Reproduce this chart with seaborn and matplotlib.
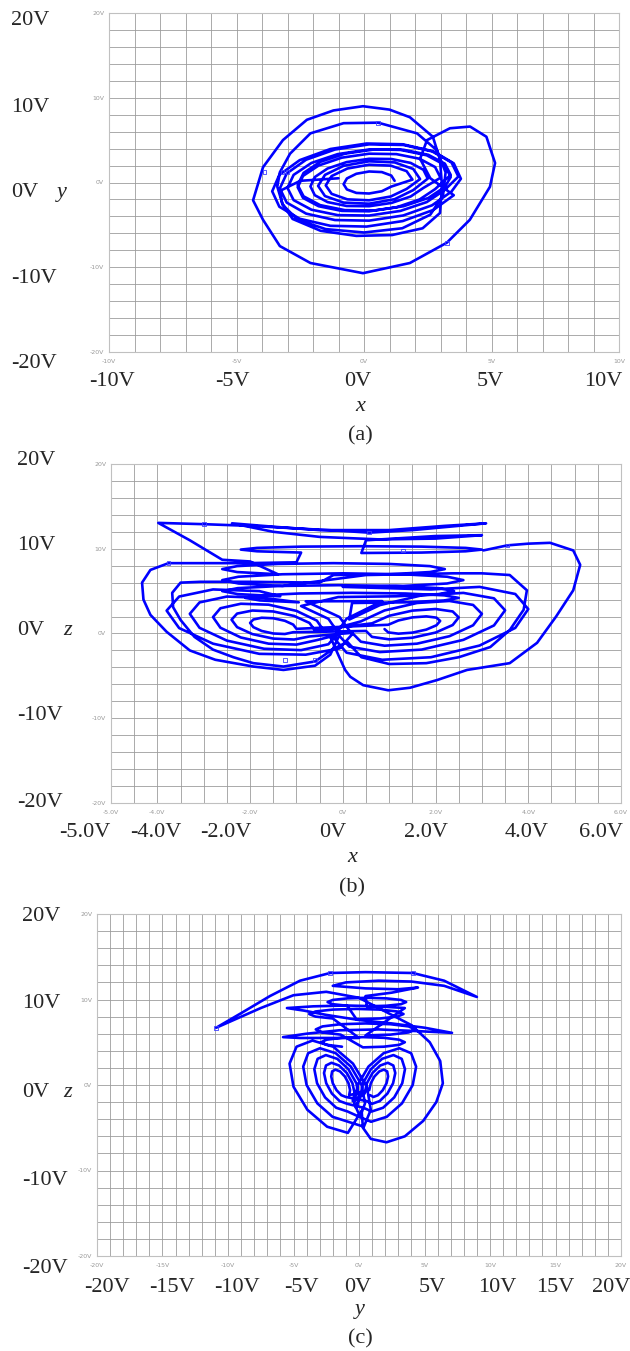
import numpy as np
import pandas as pd
import matplotlib
matplotlib.use("Agg")
import matplotlib.pyplot as plt
from matplotlib.ticker import MultipleLocator
import seaborn as sns

# values, in volts; each panel is one trajectory cut into pieces

# ---- (a) x vs y ----
a1_x = [1.2, 1.07, 0.7, 0.2, -0.3, -0.67, -0.8, -0.67, -0.3, 0.2, 0.7, 1.07]
a1_y = [0.2, 0.82, 1.23, 1.3, 1.03, 0.48, -0.2, -0.82, -1.23, -1.3, -1.03, -0.48]
a2_x = [1.9, 1.67, 1.05, 0.2, -0.65, -1.27, -1.5, -1.27, -0.65, 0.2, 1.05, 1.67]
a2_y = [0.34, 1.34, 1.99, 2.1, 1.65, 0.76, -0.34, -1.34, -1.99, -2.1, -1.65, -0.76]
a3_x = [2.2, 1.93, 1.2, 0.2, -0.8, -1.53, -1.8, -1.53, -0.8, 0.2, 1.2, 1.93]
a3_y = [0.4, 1.6, 2.37, 2.5, 1.97, 0.9, -0.4, -1.6, -2.37, -2.5, -1.97, -0.9]
a4_x = [2.5, 2.33, 1.83, 1.08, 0.2, -0.68, -1.43, -1.93, -2.1, -1.93, -1.43, -0.68, 0.2, 1.08, 1.83, 2.33]
a4_y = [0.46, 1.5, 2.31, 2.77, 2.8, 2.41, 1.65, 0.64, -0.46, -1.5, -2.31, -2.77, -2.8, -2.41, -1.65, -0.64]
a5_x = [3.0, 2.79, 2.18, 1.27, 0.2, -0.87, -1.78, -2.39, -2.6, -2.39, -1.78, -0.87, 0.2, 1.27, 2.18, 2.79]
a5_y = [0.56, 1.82, 2.8, 3.35, 3.4, 2.93, 2.0, 0.78, -0.56, -1.82, -2.8, -3.35, -3.4, -2.93, -2.0, -0.78]
a6_x = [3.4, 3.17, 2.52, 1.55, 0.4, -0.75, -1.72, -2.37, -2.6, -2.37, -1.72, -0.75, 0.4, 1.55, 2.52, 3.17]
a6_y = [0.9, 2.23, 3.27, 3.86, 3.9, 3.4, 2.43, 1.13, -0.3, -1.63, -2.67, -3.26, -3.3, -2.8, -1.83, -0.53]
a7_x = [3.4, 3.16, 2.46, 1.43, 0.2, -1.03, -2.06, -2.76, -3.0, -2.76, -2.06, -1.03, 0.2, 1.43, 2.46, 3.16]
a7_y = [0.64, 2.08, 3.21, 3.85, 3.9, 3.35, 2.31, 0.9, -0.64, -2.08, -3.21, -3.85, -3.9, -3.35, -2.31, -0.9]
a8_x = [3.7, 3.43, 2.67, 1.54, 0.2, -1.14, -2.27, -3.03, -3.3, -3.03, -2.27, -1.14, 0.2, 1.54, 2.67, 3.43]
a8_y = [0.7, 2.37, 3.67, 4.43, 4.5, 3.89, 2.69, 1.07, -0.7, -2.37, -3.67, -4.43, -4.5, -3.89, -2.69, -1.07]
a9_x = [3.8, 3.52, 2.72, 1.52, 0.1, -1.32, -2.52, -3.32, -3.6, -3.32, -2.52, -1.32, 0.1, 1.52, 2.72, 3.52]
a9_y = [0.44, 2.26, 3.68, 4.51, 4.6, 3.95, 2.64, 0.9, -1.04, -2.86, -4.28, -5.11, -5.2, -4.55, -3.24, -1.5]
a_big_x = [2.6, 2.2, 2.47, 3.37, 4.16, 4.8, 5.14, 4.94, 4.15, 3.25, 1.8, -0.04, -2.1, -3.3, -3.96, -4.35,
           -3.96, -3.18, -2.24, -1.2, -0.04, 1.0, 1.8, 2.7, 2.98, 3.06, 2.98, 2.3, 1.1, -0.3, -1.7, -2.8, -3.2]
a_big_y = [0.5, 2.8, 5.0, 6.4, 6.6, 5.4, 2.3, -0.5, -4.4, -7.1, -9.5, -10.7, -9.5, -7.5, -4.4, -2.1,
           1.8, 5.0, 7.4, 8.5, 9.0, 8.6, 7.7, 5.4, 2.7, -0.5, -3.6, -5.4, -6.2, -6.3, -5.7, -4.3, -2.5]
a_mid_x = [-3.4, -3.3, -2.9, -2.1, -0.8, 0.55, 2.08, 2.86, 3.2, 3.1, 2.6, 1.5, 0.0, -1.5, -2.6, -3.2, -3.3, -2.5, -1.0]
a_mid_y = [-0.5, 1.2, 3.4, 5.8, 7.0, 7.06, 5.8, 3.8, 1.2, -1.5, -3.8, -5.4, -5.9, -5.5, -4.4, -2.6, -1.0, 0.2, 0.5]
mark_xa = [-3.9, -3.2, -3.0, 0.55, 3.25]
mark_ya = [1.2, 1.2, 1.2, 7.06, -7.1]

# ---- (b) x vs z ----
b_r1_x = [0.9, 0.98, 1.2, 1.5, 1.8, 2.02, 2.1, 2.02, 1.8, 1.5, 1.2, 0.98]
b_r1_z = [0.52, 0.13, -0.02, 0.1, 0.46, 0.97, 1.48, 1.87, 2.02, 1.9, 1.54, 1.03]
b_l1_x = [-1.0, -1.07, -1.25, -1.5, -1.75, -1.93, -2.0, -1.93, -1.75, -1.5, -1.25, -1.07]
b_l1_z = [0.55, 1.05, 1.5, 1.8, 1.86, 1.65, 1.25, 0.75, 0.3, 0.0, -0.06, 0.15]
b_r2_x = [0.5, 0.63, 1.0, 1.5, 2.0, 2.37, 2.5, 2.37, 2.0, 1.5, 1.0, 0.63]
b_r2_z = [0.3, -0.4, -0.69, -0.5, 0.11, 1.0, 1.9, 2.6, 2.89, 2.7, 2.09, 1.2]
b_l2_x = [-0.6, -0.72, -1.05, -1.5, -1.95, -2.28, -2.4, -2.28, -1.95, -1.5, -1.05, -0.72]
b_l2_z = [0.37, 1.25, 2.07, 2.6, 2.71, 2.35, 1.63, 0.75, -0.07, -0.6, -0.71, -0.35]
b_r3_x = [0.2, 0.39, 0.9, 1.6, 2.3, 2.81, 3.0, 2.81, 2.3, 1.6, 0.9, 0.39]
b_r3_z = [0.08, -0.97, -1.44, -1.2, -0.32, 0.97, 2.32, 3.37, 3.84, 3.6, 2.72, 1.43]
b_l3_x = [-0.4, -0.56, -1.0, -1.6, -2.2, -2.64, -2.8, -2.64, -2.2, -1.6, -1.0, -0.56]
b_l3_z = [0.26, 1.52, 2.67, 3.4, 3.51, 2.98, 1.94, 0.68, -0.47, -1.2, -1.31, -0.78]
b_r4_x = [-0.1, 0.14, 0.8, 1.7, 2.6, 3.26, 3.5, 3.26, 2.6, 1.7, 0.8, 0.14]
b_r4_z = [-0.14, -1.55, -2.19, -1.9, -0.75, 0.95, 2.74, 4.15, 4.79, 4.5, 3.35, 1.65]
b_f4_x = [0.2, 1.35, 2.19, 2.5, 2.19, 1.35, 0.2, -0.95, -1.79, -2.1, -1.79, -0.95]
b_f4_z = [3.6, 3.68, 3.9, 4.2, 4.5, 4.72, 4.8, 4.72, 4.5, 4.2, 3.9, 3.68]
b_l4_x = [-1.7, -2.5, -3.09, -3.3, -3.09, -2.5, -1.7, -0.9, -0.31, -0.1, -0.31, -0.9]
b_l4_z = [4.2, 4.36, 3.67, 2.32, 0.67, -0.84, -1.8, -1.96, -1.27, 0.08, 1.73, 3.24]
b_f1_x = [-0.1, 1.15, 2.07, 2.4, 2.07, 1.15, -0.1, -1.35, -2.27, -2.6, -2.27, -1.35]
b_f1_z = [4.3, 4.39, 4.65, 5.0, 5.35, 5.61, 5.7, 5.61, 5.35, 5.0, 4.65, 4.39]
b_l5_x = [-1.8, -2.8, -3.53, -3.8, -3.53, -2.8, -1.8, -0.8, -0.07, 0.2, -0.07, -0.8]
b_l5_z = [5.0, 5.2, 4.36, 2.7, 0.64, -1.2, -2.4, -2.5, -1.76, -0.1, 1.94, 3.8]
b_r5_x = [0.85, 0.08, -0.2, 0.08, 0.85, 1.9, 2.95, 3.72, 4.0, 3.72, 2.95, 1.9]
b_r5_z = [3.82, 1.74, -0.48, -2.26, -3.1, -2.8, -1.42, 0.66, 2.88, 4.66, 5.5, 5.2]
b_f2_x = [0.0, 1.3, 2.25, 2.6, 2.25, 1.3, 0.0, -1.3, -2.25, -2.6, -2.25, -1.3]
b_f2_z = [5.5, 5.61, 5.9, 6.3, 6.7, 6.99, 7.1, 6.99, 6.7, 6.3, 5.9, 5.61]
b_r6_x = [0.5, 1.5, 2.38, 3.0, 3.6, 3.97, 3.9, 3.6, 3.18, 2.5, 1.8, 1.0, 0.4, 0.1]
b_r6_z = [6.9, 7.0, 7.1, 7.1, 6.9, 5.1, 2.8, 0.4, -1.6, -2.8, -3.5, -3.6, -2.8, -1.0]
b_l6_x = [-0.2, -0.6, -1.28, -1.93, -2.36, -2.8, -3.2, -3.5, -3.66, -3.68, -3.5, -3.07, -2.0, -0.5]
b_l6_z = [-1.8, -3.3, -3.9, -3.5, -2.8, -1.9, -0.4, 1.6, 3.1, 4.8, 6.0, 6.1, 6.1, 6.0]
b_f3_x = [-0.2, 1.0, 1.88, 2.2, 1.88, 1.0, -0.2, -1.4, -2.28, -2.6, -2.28, -1.4]
b_f3_z = [6.9, 6.99, 7.25, 7.6, 7.95, 8.21, 8.3, 8.21, 7.95, 7.6, 7.25, 6.99]
b_top_x = [-2.0, -2.6, -3.3, -3.98, -3.0, -2.0, -1.0, 0.0, 0.57, 1.5, 2.3, 3.09, 2.2, 1.0, -0.5, -1.5,
           -2.39, -1.5, -0.5, 0.8, 2.0, 3.0, 2.0, 0.5]
b_top_z = [8.5, 8.7, 11.0, 13.05, 12.9, 12.7, 12.4, 12.1, 11.9, 12.2, 12.6, 13.0, 12.7, 12.2, 12.2, 12.6,
           13.0, 12.0, 11.4, 11.1, 11.2, 11.6, 11.5, 11.0]
b_f5_x = [0.4, 1.7, 2.65, 3.0, 2.65, 1.7, 0.4, -0.9, -1.85, -2.2, -1.85, -0.9]
b_f5_z = [9.5, 9.55, 9.7, 9.9, 10.1, 10.25, 10.3, 10.25, 10.1, 9.9, 9.7, 9.55]
b_left_x = [-1.0, -2.1, -2.64, -3.76, -4.15, -4.33, -4.3, -4.15, -3.8, -3.3, -2.75, -1.93, -1.28, -0.6, -0.27, -0.1]
b_left_z = [8.4, 8.3, 8.3, 8.3, 7.5, 6.0, 4.0, 2.2, 0.2, -2.0, -3.1, -3.9, -4.3, -3.8, -2.5, -0.5]
b_right_x = [-0.27, -0.1, 0.05, 0.16, 0.44, 0.98, 1.45, 2.03, 2.68, 3.6, 4.19, 4.6, 4.97, 5.12, 4.97, 4.47,
             4.0, 3.55, 3.03]
b_right_z = [-0.4, -2.5, -4.3, -5.1, -6.1, -6.7, -6.4, -5.5, -4.3, -3.5, -1.1, 2.0, 5.1, 8.1, 9.8, 10.7,
             10.6, 10.4, 9.8]
mark_xb = [-3.0, -3.76, 0.57, 1.3, 3.55, -1.24, -0.6]
mark_zb = [12.9, 8.3, 11.9, 9.8, 10.4, -3.1, -3.1]

# ---- (c) y vs z ----
c_r1_y = [0.85, 1.1, 1.45, 1.82, 2.1, 2.22, 2.15, 1.9, 1.55, 1.18, 0.9, 0.78]
c_r1_z = [-1.19, -1.4, -1.19, -0.6, 0.2, 1.0, 1.59, 1.8, 1.59, 1.0, 0.2, -0.6]
c_l1_y = [-0.75, -0.68, -0.8, -1.08, -1.45, -1.8, -2.05, -2.12, -2.0, -1.72, -1.35, -1.0]
c_l1_z = [-1.19, -0.6, 0.2, 1.0, 1.59, 1.8, 1.59, 1.0, 0.2, -0.6, -1.19, -1.4]
c_r2_y = [0.58, 1.0, 1.58, 2.17, 2.6, 2.77, 2.62, 2.2, 1.62, 1.03, 0.6, 0.43]
c_r2_z = [-1.88, -2.2, -1.88, -1.0, 0.2, 1.4, 2.28, 2.6, 2.28, 1.4, 0.2, -1.0]
c_l2_y = [-0.48, -0.33, -0.5, -0.93, -1.52, -2.1, -2.52, -2.67, -2.5, -2.07, -1.48, -0.9]
c_l2_z = [-1.88, -1.0, 0.2, 1.4, 2.28, 2.6, 2.28, 1.4, 0.2, -1.0, -1.88, -2.2]
c_r3_y = [0.34, 0.97, 1.84, 2.69, 3.3, 3.51, 3.26, 2.63, 1.76, 0.91, 0.3, 0.09]
c_r3_z = [-2.66, -3.1, -2.66, -1.45, 0.2, 1.85, 3.06, 3.5, 3.06, 1.85, 0.2, -1.45]
c_l3_y = [-0.24, 0.01, -0.2, -0.81, -1.66, -2.53, -3.16, -3.41, -3.2, -2.59, -1.74, -0.87]
c_l3_z = [-2.66, -1.45, 0.2, 1.85, 3.06, 3.5, 3.06, 1.85, 0.2, -1.45, -2.66, -3.1]
c_r4_y = [0.02, 0.92, 2.12, 3.28, 4.1, 4.36, 3.98, 3.08, 1.88, 0.72, -0.1, -0.36]
c_r4_z = [-3.72, -4.3, -3.72, -2.15, 0.0, 2.15, 3.72, 4.3, 3.72, 2.15, 0.0, -2.15]
c_l4_y = [0.08, 0.46, 0.2, -0.62, -1.78, -2.98, -3.88, -4.26, -4.0, -3.18, -2.02, -0.82]
c_l4_z = [-3.72, -2.15, 0.0, 2.15, 3.72, 4.3, 3.72, 2.15, 0.0, -2.15, -3.72, -4.3]
c_l5_y = [0.37, 0.9, 0.6, -0.46, -1.97, -3.55, -4.77, -5.3, -5.0, -3.94, -2.43, -0.85]
c_l5_z = [-4.88, -2.9, -0.2, 2.5, 4.48, 5.2, 4.48, 2.5, -0.2, -2.9, -4.88, -5.6]
c_r5_y = [0.2, 0.3, 0.9, 2.1, 3.5, 4.9, 5.9, 6.4, 6.2, 5.4, 4.0, 2.0]
c_r5_z = [-3.0, -5.0, -6.3, -6.7, -6.0, -4.2, -2.0, 0.2, 2.8, 5.0, 7.0, 8.6]
c_t2_y = [0.0, -2.5, -5.0, -7.5, -10.9, -9.0, -6.8, -4.5, -2.2, 0.5, 4.1, 6.5, 9.0, 6.5, 4.0, 1.5, -1.0,
          -2.0, 0.5, 3.0, 4.5, 2.5, 0.5]
c_t2_z = [10.2, 10.9, 10.5, 9.0, 6.7, 8.4, 10.4, 12.2, 13.1, 13.2, 13.1, 12.2, 10.3, 11.6, 12.1, 12.2, 12.0,
          11.6, 11.3, 11.2, 11.4, 10.8, 10.4]
c_f4_y = [0.6, 2.1, 3.2, 3.6, 3.2, 2.1, 0.6, -0.9, -2.0, -2.4, -2.0, -0.9]
c_f4_z = [9.2, 9.27, 9.45, 9.7, 9.95, 10.13, 10.2, 10.13, 9.95, 9.7, 9.45, 9.27]
c_f3_y = [-0.2, 1.6, 2.92, 3.4, 2.92, 1.6, -0.2, -2.0, -3.32, -3.8, -3.32, -2.0]
c_f3_z = [7.7, 7.78, 8.0, 8.3, 8.6, 8.82, 8.9, 8.82, 8.6, 8.3, 8.0, 7.78]
c_t1_y = [0.0, -2.5, -4.5, -5.8, -4.0, -1.5, 1.5, 4.5, 7.1, 5.0, 2.5, 0.0, -2.5, -4.2, -5.5, -3.5, -1.0, 1.5,
          3.5, 2.0]
c_t1_z = [5.5, 5.5, 5.5, 5.6, 6.0, 6.4, 6.5, 6.3, 6.1, 6.7, 7.2, 7.6, 8.2, 8.7, 9.0, 9.2, 9.3, 9.2,
          9.0, 7.4]
c_f2_y = [0.5, 2.4, 3.79, 4.3, 3.79, 2.4, 0.5, -1.4, -2.79, -3.3, -2.79, -1.4]
c_f2_z = [5.8, 5.89, 6.15, 6.5, 6.85, 7.11, 7.2, 7.11, 6.85, 6.5, 6.15, 5.89]
c_f1_y = [0.3, 1.9, 3.07, 3.5, 3.07, 1.9, 0.3, -1.3, -2.47, -2.9, -2.47, -1.3]
c_f1_z = [4.4, 4.48, 4.7, 5.0, 5.3, 5.52, 5.6, 5.52, 5.3, 5.0, 4.7, 4.48]
mark_yc = [-2.2, 4.1, -10.9]
mark_zc = [13.1, 13.1, 6.7]

y_ticks = [-20, -10, 0, 10, 20]
y_ticklabels = ["-20V", "-10V", "0V", "10V", "20V"]
xa_ticks = [-10, -5, 0, 5, 10]
xa_ticklabels = ["-10V", "-5V", "0V", "5V", "10V"]
xb_ticks = [-5, -4, -2, 0, 2, 4, 6]
xb_ticklabels = ["-5.0V", "-4.0V", "-2.0V", "0V", "2.0V", "4.0V", "6.0V"]
yc_ticks = [-20, -15, -10, -5, 0, 5, 10, 15, 20]
yc_ticklabels = ["-20V", "-15V", "-10V", "-5V", "0V", "5V", "10V", "15V", "20V"]

xa = a1_x + a2_x + a3_x + a4_x + a5_x + a6_x + a7_x + a8_x + a9_x + a_big_x + a_mid_x
ya = a1_y + a2_y + a3_y + a4_y + a5_y + a6_y + a7_y + a8_y + a9_y + a_big_y + a_mid_y
xb = (b_r1_x + b_l1_x + b_r2_x + b_l2_x + b_r3_x + b_l3_x + b_r4_x + b_f4_x + b_l4_x + b_f1_x + b_l5_x
      + b_r5_x + b_f2_x + b_r6_x + b_l6_x + b_f3_x + b_top_x + b_f5_x + b_left_x + b_right_x)
zb = (b_r1_z + b_l1_z + b_r2_z + b_l2_z + b_r3_z + b_l3_z + b_r4_z + b_f4_z + b_l4_z + b_f1_z + b_l5_z
      + b_r5_z + b_f2_z + b_r6_z + b_l6_z + b_f3_z + b_top_z + b_f5_z + b_left_z + b_right_z)
yc = (c_r1_y + c_l1_y + c_r2_y + c_l2_y + c_r3_y + c_l3_y + c_r4_y + c_l4_y + c_l5_y + c_r5_y + c_t2_y
      + c_f4_y + c_f3_y + c_t1_y + c_f2_y + c_f1_y)
zc = (c_r1_z + c_l1_z + c_r2_z + c_l2_z + c_r3_z + c_l3_z + c_r4_z + c_l4_z + c_l5_z + c_r5_z + c_t2_z
      + c_f4_z + c_f3_z + c_t1_z + c_f2_z + c_f1_z)

W, H = 630, 1351
sns.set_style("white")
plt.rcParams["font.family"] = ["DejaVu Sans"]
fig = plt.figure(figsize=(W / 100, H / 100), dpi=100)


def px_axes(left, top, right, bottom):
    return fig.add_axes([left / W, 1 - bottom / H, (right - left) / W, (bottom - top) / H])


def draw_panel(ax, xs, ys, mx, my, xlim, xstep, xticks, xticklabels):
    sns.lineplot(x=xs, y=ys, sort=False, estimator=None, color="#0000ff", linewidth=1.9, ax=ax,
                 solid_joinstyle="round", solid_capstyle="round")
    ax.scatter(mx, my, marker="s", s=7, facecolors="none", edgecolors="#4040ff", linewidths=0.6, zorder=3)
    ax.set_xlim(xlim)
    ax.set_ylim(-20, 20)
    ax.set_xticks(xticks)
    ax.set_xticklabels(xticklabels)
    ax.set_yticks(y_ticks)
    ax.set_yticklabels(y_ticklabels)
    ax.xaxis.set_minor_locator(MultipleLocator(xstep))
    ax.yaxis.set_minor_locator(MultipleLocator(2))
    ax.grid(which="both", color="#9c9c9c", linewidth=0.6)
    ax.set_axisbelow(True)
    ax.tick_params(which="minor", length=0)
    ax.tick_params(axis="y", which="major", length=2.5, width=0.6, color="#aaaaaa",
                   labelsize=4.5, labelcolor="#999999", pad=1)
    ax.tick_params(axis="x", which="major", length=0, labelsize=4.5, labelcolor="#999999", pad=5)
    ax.set_xlabel("")
    ax.set_ylabel("")
    for s in ax.spines.values():
        s.set_color("#c0c0c0")
        s.set_linewidth(0.8)


ax_a = px_axes(109, 13, 619, 352)
draw_panel(ax_a, xa, ya, mark_xa, mark_ya, (-10, 10), 1, xa_ticks, xa_ticklabels)
ax_b = px_axes(111, 464, 621, 803)
draw_panel(ax_b, xb, zb, mark_xb, mark_zb, (-5, 6), 0.5, xb_ticks, xb_ticklabels)
ax_c = px_axes(97, 914, 621, 1256)
draw_panel(ax_c, yc, zc, mark_yc, mark_zc, (-20, 20), 1, yc_ticks, yc_ticklabels)

serif = ["Liberation Serif", "DejaVu Serif"]


def label(x, y, s, ha="left", italic=False):
    fig.text(x / W, 1 - y / H, s, ha=ha, va="baseline", fontsize=16, family=serif,
             style="italic" if italic else "normal")


# big outer labels, panel (a)
for s, yb in zip(["20V", "10V", "0V", "-10V", "-20V"], [25, 112, 197, 283, 368]):
    label(11, yb, s)
label(62, 197, "y", ha="center", italic=True)
for s, xc in zip(xa_ticklabels, [112, 232, 358, 490, 603]):
    label(xc, 386, s, ha="center")
label(360, 411, "x", ha="center", italic=True)
label(360, 440, "(a)", ha="center")

# panel (b)
for s, yb in zip(["20V", "10V", "0V", "-10V", "-20V"], [465, 550, 635, 720, 807]):
    label(17, yb, s)
label(68, 635, "z", ha="center", italic=True)
for s, xc in zip(xb_ticklabels, [85, 156, 226, 333, 426, 527, 601]):
    label(xc, 837, s, ha="center")
label(352, 862, "x", ha="center", italic=True)
label(352, 892, "(b)", ha="center")

# panel (c)
for s, yb in zip(["20V", "10V", "0V", "-10V", "-20V"], [921, 1008, 1097, 1185, 1273]):
    label(22, yb, s)
label(68, 1097, "z", ha="center", italic=True)
for s, xc in zip(yc_ticklabels, [107, 172, 237, 301, 358, 432, 497, 555, 611]):
    label(xc, 1292, s, ha="center")
label(360, 1314, "y", ha="center", italic=True)
label(360, 1343, "(c)", ha="center")

fig.savefig("out.png", dpi=100)
